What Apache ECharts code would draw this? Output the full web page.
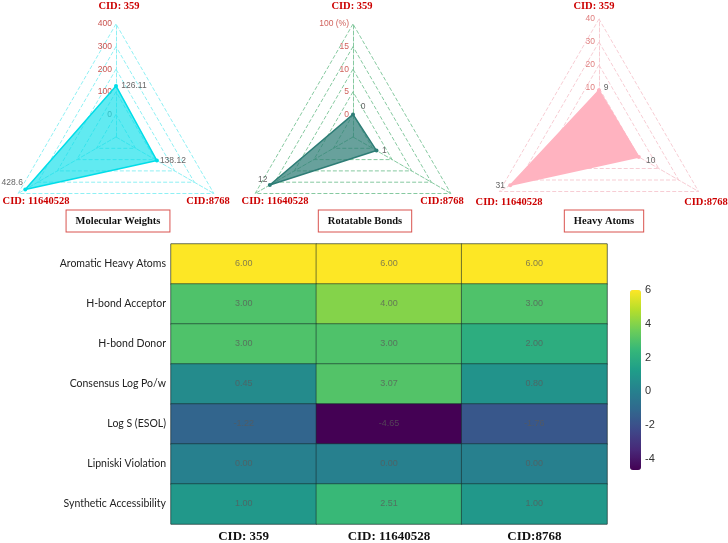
<!DOCTYPE html>
<html>
<head>
<meta charset="utf-8">
<script src="https://cdn.jsdelivr.net/npm/echarts@6/dist/echarts.min.js"></script>
<style>
    html, body { margin: 0; padding: 0; background: #fff; }
    #main { width: 728px; height: 543px; }
</style>
</head>
<body>
<div id="main"></div>
<script>
// 化合物 (雷达图顶点顺序: 上, 左下, 右下)
var compounds = ['CID: 359', 'CID: 11640528', 'CID:8768'];

// 雷达图数据
var mwValues = [126.11, 428.6, 138.12];
var rbValues = [0, 12, 1];
var haValues = [9, 31, 10];

// 雷达图刻度文字
var mwTicks = ['', '0', '100', '200', '300', '400'];
var rbTicks = ['', '0', '5', '10', '15', '100 (%)'];
var haTicks = ['', '', '10', '20', '30', '40'];

// 热力图
var props = ['Aromatic Heavy Atoms', 'H-bond Acceptor', 'H-bond Donor', 'Consensus Log Po/w',
    'Log S (ESOL)', 'Lipniski Violation', 'Synthetic Accessibility'];
var cid359 = [6.00, 3.00, 3.00, 0.45, -1.22, 0.00, 1.00];
var cid11640528 = [6.00, 4.00, 3.00, 3.07, -4.65, 0.00, 2.51];
var cid8768 = [6.00, 3.00, 2.00, 0.80, -1.76, 0.00, 1.00];

var viridis = ['#440154', '#482878', '#3e4989', '#31688e', '#26828e',
    '#1f9e89', '#35b779', '#6ece58', '#b5de2b', '#fde725'];

var myChart = echarts.init(document.getElementById('main'));

// 把标签从点上挪开 (dx, dy 为文字中心相对点的偏移)
function pad(dx, dy) {
    return [Math.max(0, 2 * dy), Math.max(0, -2 * dx), Math.max(0, -2 * dy), Math.max(0, 2 * dx)];
}

function makeRadar(center, radius, ranges, color, ticks, tickColor) {
    var indicator = [];
    for (var i = 0; i < compounds.length; i++) {
        var ind = { name: compounds[i], min: ranges[i][0], max: ranges[i][1] };
        if (i === 0) {
            ind.axisLabel = {
                show: true,
                fontSize: 8.5,
                fontFamily: 'Liberation Sans',
                color: tickColor,
                margin: 4,
                formatter: function (v, idx) {
                    return ticks[idx] || '';
                }
            };
        }
        indicator.push(ind);
    }
    return {
        center: center,
        radius: radius,
        startAngle: 90,
        shape: 'polygon',
        splitNumber: 5,
        indicator: indicator,
        axisName: { show: false },
        splitArea: { show: false },
        splitLine: { lineStyle: { color: color, type: 'dashed', width: 1 } },
        axisLine: { lineStyle: { color: color, type: 'dashed', width: 1 } },
        axisTick: { show: false }
    };
}

function makeSeries(idx, values, color, fillOpacity, offsets) {
    var rich = {};
    for (var i = 0; i < offsets.length; i++) {
        rich['p' + i] = {
            color: '#666',
            fontSize: 8.5,
            fontFamily: 'Liberation Sans',
            padding: pad(offsets[i][0], offsets[i][1])
        };
    }
    return {
        type: 'radar',
        radarIndex: idx,
        symbol: 'circle',
        symbolSize: 4,
        silent: true,
        lineStyle: { color: color, width: 1.5 },
        itemStyle: { color: color },
        areaStyle: { color: color, opacity: fillOpacity },
        label: {
            show: true,
            position: 'inside',
            formatter: function (p) {
                return '{p' + p.dimensionIndex + '|' + p.value + '}';
            },
            rich: rich
        },
        data: [{ value: values }]
    };
}

// 热力图数据
var heatData = [];
var cols = [cid359, cid11640528, cid8768];
for (var r = 0; r < props.length; r++) {
    for (var c = 0; c < cols.length; c++) {
        heatData.push([c, r, cols[c][r]]);
    }
}

// 雷达图顶点名称和标题
var graphics = [];
var nameSpots = [
    [[119, 6], [36, 201], [208, 201]],
    [[352, 6], [275, 201], [442, 201]],
    [[594, 6], [509, 202], [706, 202]]
];
for (var k = 0; k < nameSpots.length; k++) {
    for (var n = 0; n < compounds.length; n++) {
        graphics.push({
            type: 'text',
            x: nameSpots[k][n][0],
            y: nameSpots[k][n][1],
            silent: true,
            style: {
                text: compounds[n],
                fill: '#cc0000',
                font: 'bold 10.5px "Liberation Serif"',
                align: 'center', textAlign: 'center',
                verticalAlign: 'middle', textVerticalAlign: 'middle'
            }
        });
    }
}
var titles = [['Molecular Weights', 118], ['Rotatable Bonds', 365], ['Heavy Atoms', 604]];
for (var t = 0; t < titles.length; t++) {
    graphics.push({
        type: 'text',
        x: titles[t][1],
        y: 221,
        silent: true,
        style: {
            text: titles[t][0],
            fill: '#111',
            font: 'bold 10.5px "Liberation Serif"',
            align: 'center', textAlign: 'center',
            verticalAlign: 'middle', textVerticalAlign: 'middle',
            backgroundColor: '#fff',
            borderColor: '#d9534f',
            borderWidth: 1,
            padding: [5, 9]
        }
    });
}

option = {
    animation: false,
    radar: [
        makeRadar([116, 137], 113, [[-100, 400], [-100, 470], [-100, 470]], '#8ff0f4', mwTicks,
            function (v) { return +v === 0 ? '#888' : '#c9534f'; }),
        makeRadar([353, 137], 113, [[-5, 20], [-5, 15], [-5, 20]], '#86c9a0', rbTicks, '#d0625c'),
        makeRadar([599, 134], 115, [[-10, 40], [-10, 36], [-10, 40]], '#f7cdd4', haTicks, '#df7f7f')
    ],
    grid: [
        { left: 171, top: 244, width: 436, height: 280, show: true, borderColor: '#aaa', borderWidth: 1, backgroundColor: 'transparent' },
        { left: 630, top: 290, width: 11, height: 180 }
    ],
    xAxis: [{
        type: 'category',
        gridIndex: 0,
        data: compounds,
        axisLine: { show: false },
        axisTick: { show: false },
        splitArea: { show: false },
        axisLabel: {
            color: '#111',
            fontFamily: 'Liberation Serif',
            fontWeight: 'bold',
            fontSize: 13,
            margin: 6
        }
    }, {
        type: 'value',
        gridIndex: 1,
        show: false
    }],
    yAxis: [{
        type: 'category',
        gridIndex: 0,
        data: props,
        inverse: true,
        axisLine: { show: false },
        axisTick: { show: false },
        splitArea: { show: false },
        axisLabel: {
            color: '#222',
            fontFamily: 'Lato',
            fontSize: 10.5,
            margin: 5
        }
    }, {
        type: 'value',
        gridIndex: 1,
        min: -4.65,
        max: 6,
        splitNumber: 5,
        position: 'right',
        axisLine: { show: false },
        axisTick: { show: false },
        splitLine: { show: false },
        axisLabel: {
            color: '#333',
            fontFamily: 'Liberation Sans',
            fontSize: 11,
            margin: 4,
            formatter: function (v) {
                return v % 2 === 0 ? String(v) : '';
            }
        }
    }],
    visualMap: {
        type: 'continuous',
        min: -4.65,
        max: 6,
        seriesIndex: 3,
        calculable: false,
        orient: 'vertical',
        left: 630,
        top: 290,
        itemWidth: 11,
        itemHeight: 180,
        padding: 0,
        inRange: { color: viridis }
    },
    graphic: graphics,
    series: [
        makeSeries(0, mwValues, '#00dde8', 0.62, [[18, 0], [-13, -7], [16, 0]]),
        makeSeries(1, rbValues, '#2e7d76', 0.72, [[10, -8], [-7, -5], [8, 0]]),
        makeSeries(2, haValues, '#ffb3c0', 1, [[7, -3], [-10, 0], [12, 4]]),
        {
            type: 'heatmap',
            xAxisIndex: 0,
            yAxisIndex: 0,
            silent: true,
            itemStyle: { borderColor: 'rgba(20,40,40,0.55)', borderWidth: 1 },
            label: {
                show: true,
                color: 'rgba(90,90,90,0.75)',
                fontSize: 9,
                fontFamily: 'Liberation Sans',
                formatter: function (p) {
                    return p.value[2].toFixed(2);
                }
            },
            data: heatData
        }
    ]
};

myChart.setOption(option);
</script>
</body>
</html>
